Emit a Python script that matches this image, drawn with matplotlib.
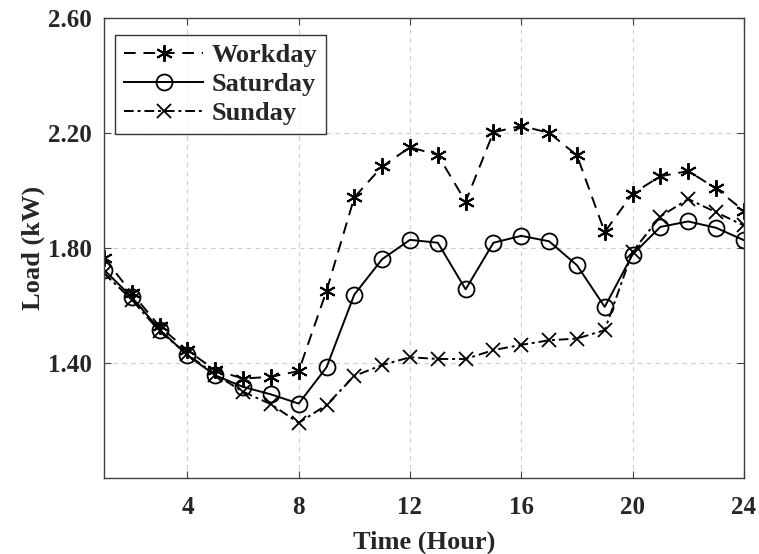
import matplotlib
matplotlib.use("Agg")
import matplotlib.pyplot as plt

hours = list(range(1, 25))
workday = [1.765, 1.643, 1.527, 1.444, 1.375, 1.346, 1.352, 1.372, 1.651, 1.976,
           2.083, 2.150, 2.123, 1.961, 2.202, 2.224, 2.200, 2.122, 1.855, 1.989,
           2.049, 2.067, 2.007, 1.929]
saturday = [1.724, 1.629, 1.516, 1.427, 1.357, 1.317, 1.291, 1.259, 1.385, 1.638,
            1.761, 1.828, 1.818, 1.656, 1.818, 1.842, 1.823, 1.740, 1.595, 1.777,
            1.873, 1.892, 1.870, 1.827]
sunday = [1.712, 1.620, 1.510, 1.430, 1.360, 1.300, 1.257, 1.192, 1.254, 1.355,
          1.393, 1.420, 1.414, 1.414, 1.445, 1.463, 1.479, 1.485, 1.514, 1.787,
          1.909, 1.970, 1.924, 1.878]
xticks = [4, 8, 12, 16, 20, 24]
yticks = [1.40, 1.80, 2.20, 2.60]

plt.rcParams['font.family'] = ['Liberation Serif', 'DejaVu Serif']
plt.rcParams['font.weight'] = 'bold'
txt = '#262626'

fig = plt.figure(figsize=(7.59, 5.54), dpi=100)
ax = fig.add_axes([0.137, 0.137, 0.843, 0.831])

lw = 1.4
ax.plot(hours, workday, color='black', linestyle=(0, (6, 4)), linewidth=lw,
        marker=(6, 2, 0), markersize=12, markeredgewidth=1.4, label='Workday')
ax.plot(hours, saturday, color='black', linestyle='-', linewidth=lw,
        marker='o', markersize=11.5, markerfacecolor='none', markeredgewidth=1.3,
        label='Saturday')
ax.plot(hours, sunday, color='black', linestyle=(0, (5, 2, 1.5, 2)), linewidth=lw,
        marker='x', markersize=9.5, markeredgewidth=1.3, label='Sunday')

ax.set_xlim(1, 24)
ax.set_ylim(1.0, 2.6)
ax.set_xticks(xticks)
ax.set_yticks(yticks)
ax.set_yticklabels([f'{v:.2f}' for v in yticks])
ax.tick_params(direction='in', length=5, width=0.8, colors='#404040',
               labelsize=18, labelcolor=txt, top=True, right=True)
ax.tick_params(axis='x', pad=12.6)
ax.tick_params(axis='y', pad=9)
for lab in ax.get_xticklabels() + ax.get_yticklabels():
    lab.set_fontweight('bold')
for s in ax.spines.values():
    s.set_color('#404040')
    s.set_linewidth(1.0)
ax.grid(True, linestyle=(0, (4, 4)), color='#cccccc', linewidth=0.8)

ax.set_xlabel('Time (Hour)', fontsize=19, fontweight='bold', color=txt, labelpad=8.3)
ax.set_ylabel('Load (kW)', fontsize=19, fontweight='bold', color=txt, labelpad=1.7)

leg = ax.legend(loc='upper left', bbox_to_anchor=(0.017, 0.963), fontsize=19,
                frameon=True, fancybox=False, edgecolor='black', handlelength=3.0,
                handletextpad=0.3, borderpad=0.35, labelspacing=0.2,
                borderaxespad=0)
leg.get_frame().set_linewidth(1.0)
for t in leg.get_texts():
    t.set_fontweight('bold')
    t.set_color(txt)

fig.savefig('out.png', dpi=100, facecolor='white')
